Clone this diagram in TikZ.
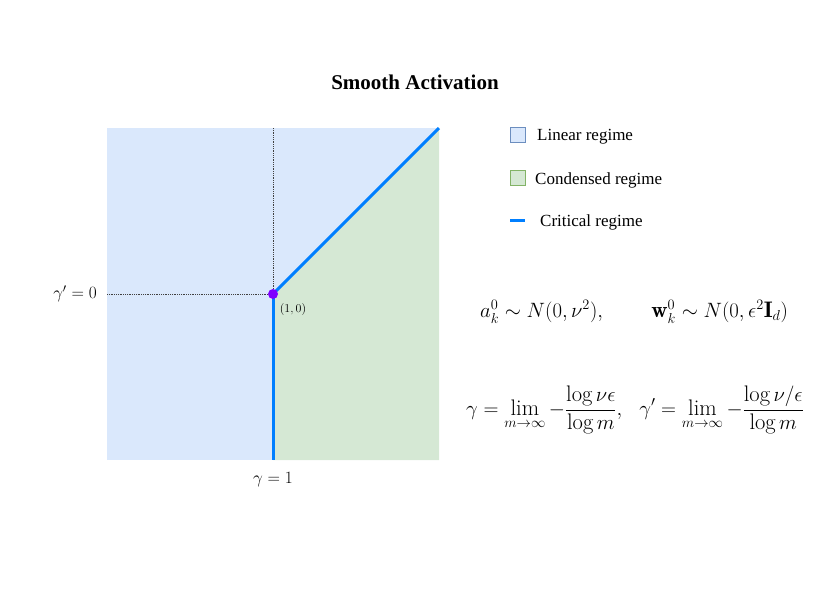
\documentclass[tikz,border=0pt]{standalone}
\usepackage{amsmath}
\usepackage{fontspec}
\newfontfamily\tnr{Liberation Serif}
\definecolor{linfill}{HTML}{DAE8FC}
\definecolor{lindraw}{HTML}{6C8EBF}
\definecolor{confill}{HTML}{D5E8D4}
\definecolor{condraw}{HTML}{82B366}
\definecolor{critblue}{HTML}{007FFF}
\definecolor{ptpurple}{HTML}{7F00FF}
\begin{document}
\begin{tikzpicture}[x=1pt,y=-1pt,
  crit/.style={critblue,line width=3pt},
  guide/.style={densely dotted,black!75,line width=0.8pt},
  legtext/.style={anchor=west,inner sep=0pt,font=\tnr\fontsize{17}{19}\selectfont},
  lbl/.style={inner sep=0pt,font=\fontsize{18}{21}\selectfont},
  formula/.style={inner sep=0pt,font=\fontsize{22.5}{26}\selectfont}]
\useasboundingbox (0,0) rectangle (830,590);
% regions
\fill[linfill] (107,128) rectangle (439,460);
\fill[confill] (273,294) -- (439,128) -- (439,460) -- (273,460) -- cycle;
% guides
\coordinate (top) at (273,128);
\coordinate (left) at (107,294);
\coordinate (bot) at (273,460);
\coordinate (tr) at (439,128);
\coordinate (pt) at (273,294);
\draw[guide] (top) -- (pt);
\draw[guide] (left) -- (pt);
\draw[crit] (pt) -- (bot);
\draw[crit] (pt) -- (tr);
\node[circle,fill=ptpurple,inner sep=0pt,minimum size=10pt] (dot) at (pt) {};
\node[inner sep=0pt,font=\fontsize{13}{15}\selectfont] (ptl) at (293,309) {$(1,0)$};
% axis labels
\node[lbl] (gp) at (75,294) {$\gamma'=0$};
\node[lbl] (g) at (273,480) {$\gamma=1$};
% title
\node[inner sep=0pt,font=\tnr\bfseries\fontsize{21}{24}\selectfont] (title) at (415,82) {Smooth Activation};
% legend
\draw[lindraw,fill=linfill,line width=0.8pt] (510,127) rectangle (525,142);
\node[legtext] (l1) at (537,137) {Linear regime};
\draw[condraw,fill=confill,line width=0.8pt] (510,170) rectangle (525,185);
\node[legtext] (l2) at (535,180) {Condensed regime};
\coordinate (c1) at (510,220);
\coordinate (c2) at (525,220);
\draw[crit] (c1) -- (c2);
\node[legtext] (l3) at (540,222) {Critical regime};
% formulas
\node[formula] (f1) at (634,312) {$a_k^0\sim N(0,\nu^2),\qquad \mathbf{w}_k^0\sim N(0,\epsilon^2\mathbf{I}_d)$};
\node[formula] (f2) at (635,410) {$\displaystyle \gamma=\lim_{m\to\infty}-\frac{\log\nu\epsilon}{\log m},\ \ \gamma'=\lim_{m\to\infty}-\frac{\log\nu/\epsilon}{\log m}$};
\end{tikzpicture}
\end{document}
